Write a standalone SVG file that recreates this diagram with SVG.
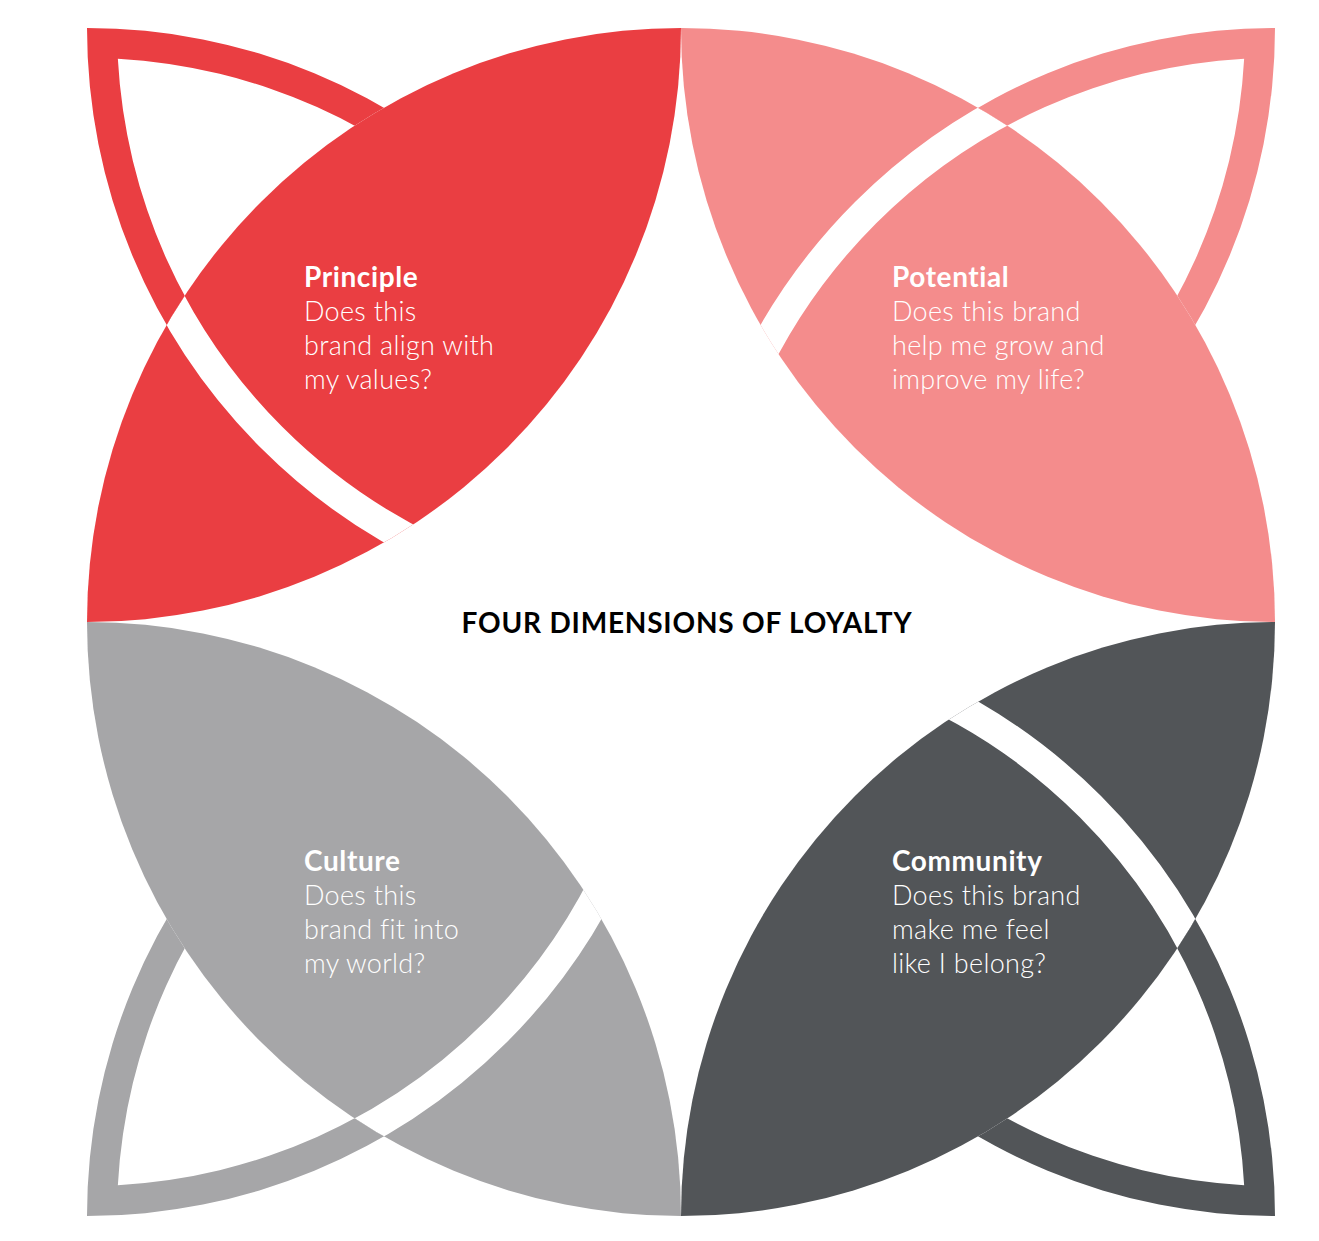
<svg xmlns="http://www.w3.org/2000/svg" xmlns:xlink="http://www.w3.org/1999/xlink" width="1319" height="1241" viewBox="0 0 1319 1241">
<style>
.h{font-family:Lato,"Liberation Sans",sans-serif;font-weight:700;font-size:28px;letter-spacing:0.6px;fill:#fff}
.b{font-family:Lato,"Liberation Sans",sans-serif;font-weight:300;font-size:27px;letter-spacing:0.3px;fill:#fff}
.t{font-family:Lato,"Liberation Sans",sans-serif;font-weight:700;font-size:28px;letter-spacing:0.8px;fill:#000}
</style>
<defs>
<clipPath id="outside"><path clip-rule="evenodd" d="M-10,-10H1330V1260H-10Z M87,622A594 594 0 1 0 1275 622A594 594 0 1 0 87 622Z"/></clipPath>
<clipPath id="inlens"><path d="M681,28A594 594 0 0 0 87 622A594 594 0 0 0 681 28Z"/></clipPath>
<g id="leaf">
<path fill="currentColor" d="M681,28A594 594 0 0 0 87 622A594 594 0 0 0 681 28Z"/>
<circle cx="681" cy="28" r="579" fill="none" stroke="#fff" stroke-width="30" clip-path="url(#inlens)"/>
<path fill="currentColor" fill-rule="evenodd" clip-path="url(#outside)" d="M87,28A594 594 0 0 0 681 622A594 594 0 0 0 87 28Z M117.85,58.85A564 564 0 0 0 650.15 591.15A564 564 0 0 0 117.85 58.85Z"/>
</g>
</defs>
<rect width="1319" height="1241" fill="#fff"/>
<g id="principle">
<use xlink:href="#leaf" style="color:#EA3E42"/>
<text class="h" x="304" y="287">Principle</text>
<text class="b" x="304" y="321">Does this</text>
<text class="b" x="304" y="355">brand align with</text>
<text class="b" x="304" y="389">my values?</text>
</g>
<g id="potential">
<use xlink:href="#leaf" style="color:#F48C8C" transform="rotate(90,681,622)"/>
<text class="h" x="892" y="287">Potential</text>
<text class="b" x="892" y="321">Does this brand</text>
<text class="b" x="892" y="355">help me grow and</text>
<text class="b" x="892" y="389">improve my life?</text>
</g>
<g id="culture">
<use xlink:href="#leaf" style="color:#A6A6A8" transform="rotate(-90,681,622)"/>
<text class="h" x="304" y="871">Culture</text>
<text class="b" x="304" y="905">Does this</text>
<text class="b" x="304" y="939">brand fit into</text>
<text class="b" x="304" y="973">my world?</text>
</g>
<g id="community">
<use xlink:href="#leaf" style="color:#525558" transform="rotate(180,681,622)"/>
<text class="h" x="892" y="871">Community</text>
<text class="b" x="892" y="905">Does this brand</text>
<text class="b" x="892" y="939">make me feel</text>
<text class="b" x="892" y="973">like I belong?</text>
</g>
<g id="title">
<text class="t" x="687" y="633" text-anchor="middle">FOUR DIMENSIONS OF LOYALTY</text>
</g>
<g id="connectors"/>
</svg>
